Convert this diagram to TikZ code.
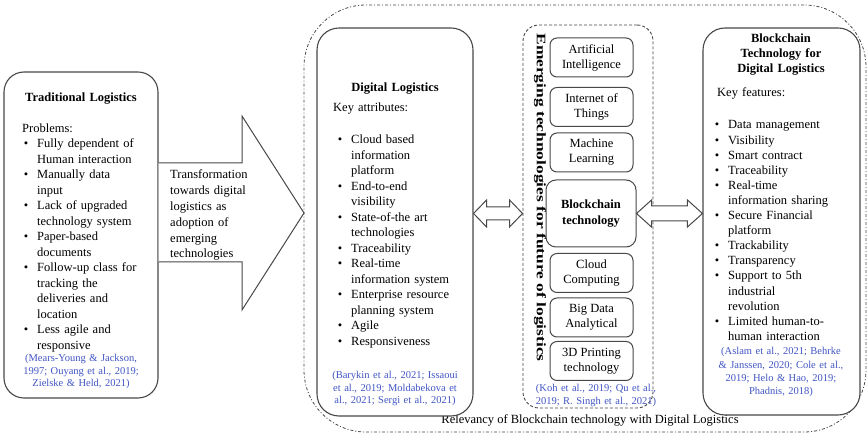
\documentclass[tikz,border=0pt]{standalone}
\usepackage{fontspec}
\setmainfont{Liberation Serif}
\usetikzlibrary{calc}

\definecolor{linegray}{RGB}{72,72,72}
\definecolor{citeblue}{RGB}{66,86,196}

% bullet hanging to the left of a list line
\newcommand\blt{\leavevmode\llap{\textbullet\hspace{9pt}}}

\tikzset{
  panel/.style={draw=linegray, line width=1.1pt, rounded corners=22pt, fill=white, inner sep=0pt},
  techbox/.style={draw=linegray, line width=1pt, rounded corners=7pt, fill=white, inner sep=0pt,
    minimum width=83pt, minimum height=39pt, align=center,
    font=\fontsize{12.5}{15}\selectfont},
  dashframe/.style={draw=linegray, line width=0.9pt, dash pattern=on 3pt off 2pt, rounded corners=16pt, inner sep=0pt},
  relframe/.style={draw=linegray, line width=0.8pt, dash pattern=on 3pt off 2pt on 1pt off 2pt, rounded corners=62pt, inner sep=0pt},
  hollow/.style={draw=linegray, line width=1pt, fill=white, line join=miter},
  body/.style={inner sep=0pt, anchor=base west, align=left, text width=150pt,
    font=\fontsize{12.5}{15.5}\selectfont},
  heading/.style={inner sep=0pt, anchor=base, align=center, text width=150pt,
    font=\bfseries\fontsize{12.5}{15}\selectfont},
  cite/.style={inner sep=0pt, anchor=base, align=center, text width=150pt, text=citeblue,
    font=\fontsize{10.5}{12.5}\selectfont},
}

\begin{document}
\begin{tikzpicture}[x=1pt, y=-1pt]
\useasboundingbox[fill=white] (0,0) rectangle (868,443);

% outer frame: relevancy of blockchain technology with digital logistics
\node[relframe, minimum width=562pt, minimum height=427pt] (rel) at (585,218.5) {};
\node[inner sep=0pt, anchor=base, font=\fontsize{12.5}{15}\selectfont] (reltext) at (590,424)
  {Relevancy of Blockchain technology with Digital Logistics};

% transformation arrow, its tail on the traditional panel
\node[panel, rounded corners=20pt, minimum width=154pt, minimum height=326pt] (trad) at (81,235) {};
\draw[hollow] (trad.east |- 0,163) coordinate (sh1) -- (242,163) -- (242,116)
  -- (304,213) coordinate (tip) -- (242,310) -- (242,262) -- (trad.east |- 0,262);
\node[body, text width=80pt, font=\fontsize{12.5}{15.8}\selectfont] (trans) at (170,179)
  {Transformation\\towards digital\\logistics as\\adoption of\\emerging\\technologies};

% traditional logistics
\node[heading] (tradtitle) at (81,102) {Traditional Logistics};
\node[body] (tradkey) at (22,133) {Problems:};
\node[body] (tradlist) at (37,148) {%
\blt Fully dependent of\\
Human interaction\\
\blt Manually data\\
input\\
\blt Lack of upgraded\\
technology system\\
\blt Paper-based\\
documents\\
\blt Follow-up class for\\
tracking the\\
deliveries and\\
location\\
\blt Less agile and\\
responsive};
\node[cite] (tradcite) at (81,362) {(Mears-Young \& Jackson,\\1997; Ouyang et al., 2019;\\Zielske \& Held, 2021)};

% digital logistics
\node[panel, minimum width=156pt, minimum height=388pt] (dig) at (395,222) {};
\node[heading] (digtitle) at (395,92) {Digital Logistics};
\node[body] (digkey) at (333,112) {Key attributes:};
\node[body] (diglist) at (351,144) {%
\blt Cloud based\\
information\\
platform\\
\blt End-to-end\\
visibility\\
\blt State-of-the art\\
technologies\\
\blt Traceability\\
\blt Real-time\\
information system\\
\blt Enterprise resource\\
planning system\\
\blt Agile\\
\blt Responsiveness};
\node[cite] (digcite) at (395,379) {(Barykin et al., 2021; Issaoui\\et al., 2019; Moldabekova et\\al., 2021; Sergi et al., 2021)};

% emerging technologies
\node[dashframe, minimum width=130pt, minimum height=383pt] (emg) at (588,216.5) {};
\node[rotate=-90, inner sep=0pt, font=\bfseries\fontsize{13}{15}\selectfont] (emgtitle) at (540,197.5)
  {\scalebox{1.34}[1]{Emerging technologies for future of logistics}};
\node[techbox] (ai) at (591.5,57.5) {Artificial\\Intelligence};
\node[techbox] (iot) at (591.5,107) {Internet of\\Things};
\node[techbox] (ml) at (591.5,152.5) {Machine\\Learning};
\node[techbox, minimum width=90pt, minimum height=67pt, rounded corners=10pt, font=\bfseries\fontsize{12.5}{15.5}\selectfont] (bc) at (591,213.5) {Blockchain\\technology};
\node[techbox] (cc) at (591.5,273) {Cloud\\Computing};
\node[techbox] (bd) at (591.5,317.5) {Big Data\\Analytical};
\node[techbox] (tdp) at (591.5,361) {3D Printing\\technology};
\node[cite] (emgcite) at (596,392) {(Koh et al., 2019; Qu et al.,\\2019; R. Singh et al., 2021)};

% blockchain technology for digital logistics
\node[panel, minimum width=157pt, minimum height=387pt] (rb) at (781.5,221.5) {};
\node[heading] (rbtitle) at (781,43) {Blockchain\\Technology for\\Digital Logistics};
\node[body] (rbkey) at (717,97) {Key features:};
\node[body, font=\fontsize{12.5}{15.1}\selectfont] (rblist) at (728,129) {%
\blt Data management\\
\blt Visibility\\
\blt Smart contract\\
\blt Traceability\\
\blt Real-time\\
information sharing\\
\blt Secure Financial\\
platform\\
\blt Trackability\\
\blt Transparency\\
\blt Support to 5th\\
industrial\\
revolution\\
\blt Limited human-to-\\
human interaction};
\node[cite, font=\fontsize{10.5}{13.2}\selectfont] (rbcite) at (781,355) {(Aslam et al., 2021; Behrke\\\& Janssen, 2020; Cole et al.,\\2019; Helo \& Hao, 2019;\\Phadnis, 2018)};

% two-way links
\draw[hollow] (dig.east |- bc.center) -- ++(13,-13.5) -- ++(0,7)
  -- ($(emg.west |- bc.center)+(-13,-6.5)$) -- ++(0,-7) -- (emg.west |- bc.center)
  -- ++(-13,13.5) -- ++(0,-7) -- ($(dig.east |- bc.center)+(13,6.5)$) -- ++(0,7) -- cycle;
\draw[hollow] (bc.east) -- ++(15,-13.5) -- ++(0,6)
  -- ($(rb.west |- bc.center)+(-15,-7.5)$) -- ++(0,-6) -- (rb.west |- bc.center)
  -- ++(-15,13.5) -- ++(0,-6) -- ($(bc.east)+(15,7.5)$) -- ++(0,6) -- cycle;
\end{tikzpicture}
\end{document}
